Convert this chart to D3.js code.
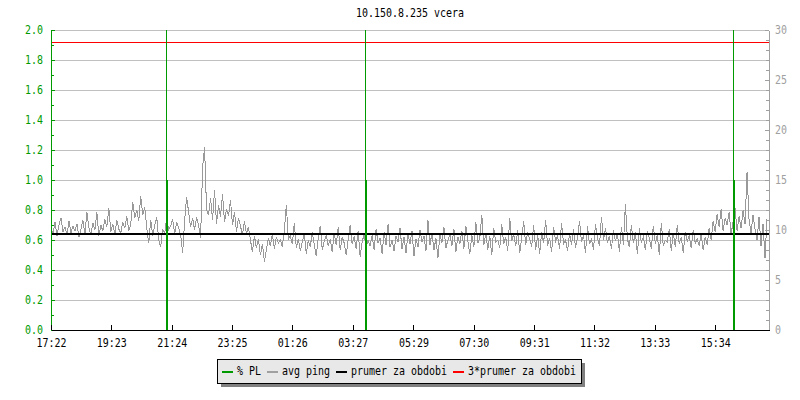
<!DOCTYPE html>
<html>
<head>
    <meta charset="UTF-8">
    <title>10.150.8.235 vcera</title>
    <style>
        body { margin: 0; background: #fff; }
        svg text { font-family: "DejaVu Sans Mono", "Liberation Mono", monospace; font-size: 12px; }
        .grid line { stroke: #c0c0c0; shape-rendering: crispEdges; }
        .axis-left path, .axis-left line { stroke: #009a00; shape-rendering: crispEdges; }
        .axis-left text { fill: #009a00; }
        .axis-right path, .axis-right line { stroke: #a0a0a0; shape-rendering: crispEdges; }
        .axis-right text { fill: #a0a0a0; }
        .axis-x path, .axis-x line { stroke: #000; shape-rendering: crispEdges; }
        .axis-x text { fill: #000; }
        .ping { fill: none; stroke: #999; stroke-width: 1px; shape-rendering: crispEdges; }
    </style>
</head>
<body>
    <div class="chart"></div>

    <script src="https://cdn.jsdelivr.net/npm/d3@7"></script>
    <script>
        // title
        const title = '10.150.8.235 vcera';

        // x axis tick labels (HH:MM), first one is the start of the period
        const timeTicks = ['17:22', '19:23', '21:24', '23:25', '01:26', '03:27',
            '05:29', '07:30', '09:31', '11:32', '13:33', '15:34'];

        // sampling step of avg ping in minutes
        const stepMinutes = 4;

        // avg ping [ms] (right axis)
        const avgPing = [
            10.2, 9.6, 10.8, 9.4, 10.5, 11.2, 9.8, 10.3, 9.5, 10.9, 9.7, 10.4, 9.9, 10.6, 9.3, 10.1, 11.0, 9.6, 11.8, 10.2,
            9.5, 10.7, 10.0, 11.8, 9.4, 10.5, 9.9, 11.1, 10.3, 12.2, 9.8, 10.6, 9.6, 11.0, 10.1, 9.7, 10.8, 10.2, 11.4, 9.9,
            10.6, 12.8, 11.2, 12.0, 10.9, 13.4, 11.5, 12.3, 10.2, 8.7, 11.0, 9.4, 10.5, 11.3, 9.0, 8.3, 10.1, 9.6, 11.2, 10.0,
            10.4, 11.1, 9.6, 10.8, 10.2, 9.5, 7.7, 10.9, 13.3, 11.8, 10.3, 11.2, 10.0, 11.3, 10.5, 9.2, 16.2, 18.3, 12.0, 11.5,
            13.2, 11.0, 14.0, 10.6, 12.5, 11.3, 13.6, 10.8, 12.1, 11.4, 13.0, 10.5, 11.8, 9.8, 11.2, 10.4, 9.5, 10.9, 9.6, 10.3,
            9.0, 7.8, 9.4, 8.2, 9.1, 7.5, 8.6, 6.8, 8.0, 9.2, 8.4, 9.6, 8.1, 9.3, 8.7, 9.0, 8.3, 10.0, 12.5, 9.1,
            9.4, 8.6, 10.7, 8.2, 9.1, 7.9, 8.8, 9.6, 7.6, 9.0, 8.3, 9.8, 8.5, 7.4, 9.2, 10.4, 8.0, 8.9, 9.5, 8.4,
            9.1, 7.8, 9.7, 8.5, 10.3, 8.0, 9.3, 8.7, 7.5, 9.0, 10.5, 8.6, 9.4, 8.1, 9.9, 7.3, 8.8, 9.6, 8.2, 9.0,
            8.4, 9.5, 8.0, 10.1, 8.7, 9.2, 7.6, 9.8, 8.5, 10.6, 8.3, 9.0, 7.9, 9.4, 8.8, 10.2, 8.1, 9.3, 7.7, 9.6,
            8.6, 9.9, 7.4, 9.1, 8.3, 10.0, 8.8, 9.4, 7.9, 11.0, 8.5, 9.7, 8.0, 9.2, 7.2, 9.5, 8.7, 10.3, 8.2, 9.0,
            9.6, 8.4, 10.1, 7.8, 9.3, 8.6, 9.9, 8.1, 10.4, 8.9, 7.6, 9.5, 8.3, 10.8, 8.7, 9.2, 11.5, 8.5, 9.7, 8.0,
            9.4, 7.5, 10.2, 8.8, 9.0, 8.2, 10.6, 8.6, 9.3, 7.9, 11.2, 8.9, 9.6, 8.4, 10.0, 7.7, 9.2, 10.9, 8.5, 9.8,
            9.1, 8.3, 10.5, 8.0, 9.5, 7.6, 9.8, 8.7, 11.0, 8.4, 9.2, 7.8, 10.3, 8.9, 9.4, 8.1, 10.7, 8.6, 9.0, 7.9,
            9.7, 8.5, 10.1, 8.2, 9.3, 10.9, 8.8, 9.5, 7.7, 10.4, 8.6, 9.1, 8.0, 10.6, 9.2, 8.4, 11.3, 9.0, 10.2, 8.7,
            9.4, 8.1, 10.0, 8.9, 9.6, 7.8, 10.3, 8.5, 12.6, 9.1, 8.3, 10.5, 8.7, 9.8, 7.6, 10.2, 8.8, 9.3, 8.0, 9.9,
            9.2, 8.1, 10.4, 8.6, 9.5, 7.5, 10.7, 8.4, 9.0, 8.8, 10.1, 7.9, 9.7, 8.3, 10.5, 8.6, 9.3, 7.7, 9.8, 8.9,
            9.4, 8.2, 10.0, 8.7, 9.1, 8.4, 9.6, 8.0, 9.3, 8.5, 10.2, 9.0, 10.9, 9.8, 11.6, 10.3, 12.1, 9.9, 11.2, 10.5,
            11.8, 9.6, 10.8, 12.2, 9.9, 11.4, 10.2, 12.0, 10.6, 15.8, 11.0, 9.7, 11.5, 10.1, 9.0, 11.3, 8.4, 10.6, 7.2, 11.1
        ];

        // average over the period [ms]
        const periodAvg = 9.6;

        // packet loss events (time, value on left axis)
        const plTimes = ['21:13', '03:52', '16:10'];
        const plValues = [1.0, 1.0, 1.0];

        // legend
        const legendLabels = ['% PL', 'avg ping', 'prumer za obdobi', '3*prumer za obdobi'];
        const legendColors = ['#009a00', '#a0a0a0', '#000000', '#ff0000'];

        const margin = { top: 30, right: 31, bottom: 70, left: 51 };
        const W = 800, H = 400;
        const width = W - margin.left - margin.right;
        const height = H - margin.top - margin.bottom;
        const charW = 6;

        const parseHM = d3.timeParse('%Y-%m-%d %H:%M');
        const start = parseHM('2000-01-01 ' + timeTicks[0]);
        const end = d3.timeDay.offset(start, 1);
        function toTime(hm) {
            let t = parseHM('2000-01-01 ' + hm);
            if (t < start) t = d3.timeDay.offset(t, 1);
            return t;
        }

        const pingData = avgPing.map((v, i) => ({ t: d3.timeMinute.offset(start, i * stepMinutes), v: v }));
        const plData = plTimes.map((t, i) => ({ t: toTime(t), v: plValues[i] }));

        const x = d3.scaleTime().domain([start, end]).range([0, width]);
        const yL = d3.scaleLinear().domain([0, 2]).range([height, 0]);
        const yR = d3.scaleLinear().domain([0, 30]).range([height, 0]);

        // squeeze text to the narrow fixed font of the original
        function fit(sel) {
            sel.each(function () {
                const n = this.textContent.length;
                if (n) d3.select(this).attr('textLength', n * charW).attr('lengthAdjust', 'spacingAndGlyphs');
            });
        }

        const svg = d3.select('.chart')
            .append('svg')
            .attr('width', W)
            .attr('height', H);

        svg.append('text')
            .attr('x', margin.left + width / 2)
            .attr('y', 17)
            .attr('text-anchor', 'middle')
            .text(title)
            .call(fit);

        const g = svg.append('g')
            .attr('transform', `translate(${ margin.left },${ margin.top })`);

        g.append('clipPath')
            .attr('id', 'plot')
            .append('rect')
            .attr('width', width)
            .attr('height', height);

        // horizontal grid
        g.append('g')
            .attr('class', 'grid')
            .selectAll('line')
            .data(d3.range(0.2, 2.01, 0.2))
            .enter()
            .append('line')
            .attr('x1', 0)
            .attr('x2', width)
            .attr('y1', d => yL(d))
            .attr('y2', d => yL(d));

        const plot = g.append('g').attr('clip-path', 'url(#plot)');

        const line = d3.line()
            .x(d => x(d.t))
            .y(d => yR(d.v));

        plot.append('path')
            .datum(pingData)
            .attr('class', 'ping')
            .attr('d', line);

        plot.append('line')
            .attr('x1', 0).attr('x2', width)
            .attr('y1', yR(periodAvg)).attr('y2', yR(periodAvg))
            .attr('stroke', '#000')
            .attr('stroke-width', 2);

        plot.append('line')
            .attr('x1', 0).attr('x2', width)
            .attr('y1', Math.round(yR(3 * periodAvg)) + 0.5).attr('y2', Math.round(yR(3 * periodAvg)) + 0.5)
            .attr('stroke', '#ff0000')
            .attr('stroke-width', 1);

        // packet loss: thin rule over the whole height, thick bar up to the value
        const pl = plot.append('g').selectAll('g')
            .data(plData)
            .enter()
            .append('g');

        pl.append('line')
            .attr('x1', d => Math.round(x(d.t)) + 0.5)
            .attr('x2', d => Math.round(x(d.t)) + 0.5)
            .attr('y1', 0)
            .attr('y2', height)
            .attr('stroke', '#009a00')
            .attr('stroke-width', 1);

        pl.append('line')
            .attr('x1', d => Math.round(x(d.t)) + 1)
            .attr('x2', d => Math.round(x(d.t)) + 1)
            .attr('y1', d => yL(d.v))
            .attr('y2', height)
            .attr('stroke', '#009a00')
            .attr('stroke-width', 2);

        // left axis (green)
        g.append('g')
            .attr('class', 'axis-left')
            .call(d3.axisLeft(yL).ticks(20).tickSize(-3).tickFormat('').tickSizeOuter(0));

        g.append('g')
            .attr('class', 'axis-left')
            .call(d3.axisLeft(yL).ticks(10).tickSize(-4).tickPadding(8)
                .tickFormat(d3.format('.1f')).tickSizeOuter(0))
            .selectAll('text').call(fit);

        // right axis (gray)
        g.append('g')
            .attr('class', 'axis-right')
            .attr('transform', `translate(${ width },0)`)
            .call(d3.axisRight(yR).ticks(30).tickSize(-3).tickFormat('').tickSizeOuter(0));

        g.append('g')
            .attr('class', 'axis-right')
            .attr('transform', `translate(${ width },0)`)
            .call(d3.axisRight(yR).ticks(6).tickSize(-4).tickPadding(6).tickSizeOuter(0))
            .selectAll('text').call(fit);

        // time axis
        g.append('g')
            .attr('class', 'axis-x')
            .attr('transform', `translate(0,${ height })`)
            .call(d3.axisBottom(x)
                .tickValues(timeTicks.map(toTime))
                .tickFormat(d3.timeFormat('%H:%M'))
                .tickSize(-5)
                .tickPadding(8)
                .tickSizeOuter(0))
            .selectAll('text').call(fit);

        // legend
        const lg = svg.append('g').attr('transform', 'translate(217,359)');
        const lgW = 364, lgH = 24;
        lg.append('rect')
            .attr('x', 4).attr('y', 4)
            .attr('width', lgW).attr('height', lgH)
            .attr('fill', '#808080');
        lg.append('rect')
            .attr('x', 0.5).attr('y', 0.5)
            .attr('width', lgW).attr('height', lgH)
            .attr('fill', '#e8e8e8')
            .attr('stroke', '#000');

        let cx = 5;
        legendLabels.forEach((label, i) => {
            lg.append('line')
                .attr('x1', cx).attr('x2', cx + 11)
                .attr('y1', 13).attr('y2', 13)
                .attr('stroke', legendColors[i])
                .attr('stroke-width', 2);
            lg.append('text')
                .attr('x', cx + 15)
                .attr('y', 16)
                .text(label)
                .call(fit);
            cx += 15 + label.length * charW + 6;
        });
    </script>
</body>
</html>
